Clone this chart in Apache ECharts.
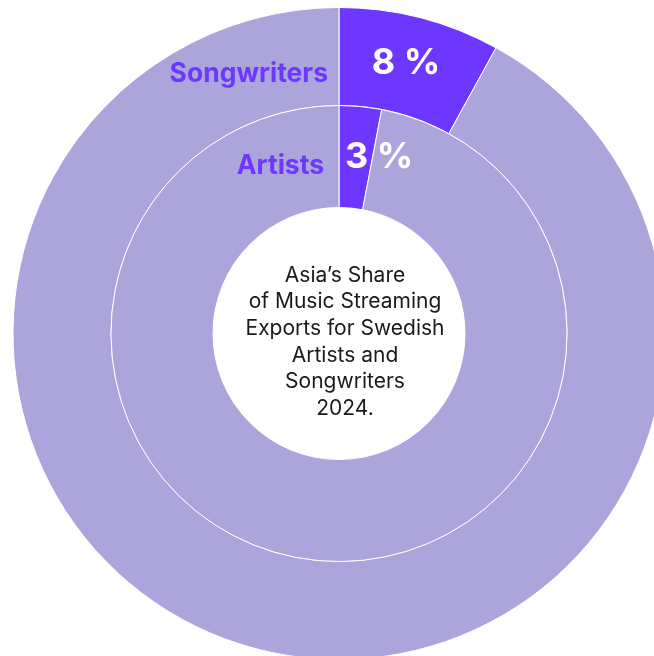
<!DOCTYPE html>
<html>
<head>
<meta charset="utf-8">
<script src="https://cdn.jsdelivr.net/npm/echarts@6/dist/echarts.min.js"></script>
<style>
  html, body { margin: 0; padding: 0; background: #fff; }
  #chart { width: 654px; height: 656px; }
</style>
</head>
<body>
<div id="chart"></div>
<script>
// share of streaming exports going to Asia, 2024 (percent)
const groups = ["Songwriters", "Artists"];
const asiaShare = [8, 3];
const restShare = [92, 97];
const centerLines = [
  "Asia\u2019s Share",
  "of Music Streaming",
  "Exports for Swedish",
  "Artists and",
  "Songwriters",
  "2024."
];

const purple = "#6D37FF";
const lavender = "#ACA5DB";
const cx = 339;
const cy = 333.5;

const chart = echarts.init(document.getElementById("chart"));

function ring(idx, radius) {
  return {
    name: groups[idx],
    type: "pie",
    center: [cx, cy],
    radius: radius,
    startAngle: 90,
    clockwise: true,
    silent: true,
    avoidLabelOverlap: false,
    label: { show: false },
    labelLine: { show: false },
    itemStyle: { borderColor: "#fff", borderWidth: 1 },
    data: [
      { name: "Asia", value: asiaShare[idx], itemStyle: { color: purple } },
      { name: "Other", value: restShare[idx], itemStyle: { color: lavender } },
    ],
  };
}

const fontFamily = "Inter, 'Noto Sans', sans-serif";

const option = {
  animation: false,
  series: [ring(0, [228, 326]), ring(1, [126, 228])],
  graphic: [
    {
      type: "text",
      z: 100,
      x: 328, y: 88,
      style: {
        text: groups[0], fill: purple, fontFamily, fontSize: 26.5, fontWeight: 700,
        textAlign: "right", textVerticalAlign: "bottom",
      },
    },
    {
      type: "text",
      z: 100,
      x: 324, y: 180,
      style: {
        text: groups[1], fill: purple, fontFamily, fontSize: 26.5, fontWeight: 700,
        textAlign: "right", textVerticalAlign: "bottom",
      },
    },
    {
      type: "text",
      z: 100,
      x: 406, y: 81,
      style: {
        text: asiaShare[0] + " %", fill: "#fff", fontFamily, fontSize: 36, fontWeight: 700,
        textAlign: "center", textVerticalAlign: "bottom",
      },
    },
    {
      type: "text",
      z: 100,
      x: 345, y: 175,
      style: {
        text: asiaShare[1] + " %", fill: "#fff", fontFamily, fontSize: 36, fontWeight: 700,
        textAlign: "left", textVerticalAlign: "bottom",
      },
    },
    {
      type: "text",
      z: 100,
      x: 345, y: 262,
      style: {
        text: centerLines.join("\n"), fill: "#1a1a1a", fontFamily, fontSize: 21,
        lineHeight: 26.7, textAlign: "center", textVerticalAlign: "top",
      },
    },
  ],
};

chart.setOption(option);
window.addEventListener("resize", () => chart.resize());
</script>
</body>
</html>
